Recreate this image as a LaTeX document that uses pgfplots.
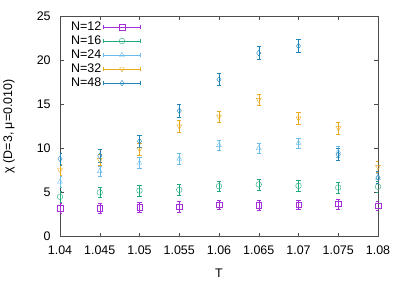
\documentclass[border=0pt]{standalone}
\usepackage{fontspec}
\setmainfont{Liberation Sans}
\usepackage{pgfplots}
\pgfplotsset{compat=1.18}
\definecolor{c1}{HTML}{A530DA}
\definecolor{c2}{HTML}{20A87F}
\definecolor{c3}{HTML}{6ABDEB}
\definecolor{c4}{HTML}{E9A920}
\definecolor{c5}{HTML}{2084BA}
\pgfplotsset{
  myleg/.style={legend image code/.code={%
    \draw[##1,mark=none,solid] (0bp,0bp)--(37bp,0bp) (0bp,-2.2bp)--(0bp,2.2bp) (37bp,-2.2bp)--(37bp,2.2bp);
    \draw[##1] plot coordinates {(18.5bp,0bp)};}},
  ser/.style={only marks, mark options={solid,line width=0.4pt}, line width=0.4pt, mark size=2.8bp,
    error bars/.cd, y dir=both, y explicit, error mark options={rotate=90,mark size=2.2bp,line width=0.4pt}, error bar style={line width=0.4pt}, /pgfplots/.cd},
}
\begin{document}
\fontsize{12.5}{15}\selectfont
\begin{tikzpicture}
\useasboundingbox (-60bp,-45.5bp) rectangle (343bp,236.5bp);
\begin{axis}[
  scale only axis, width=318bp, height=220.5bp,
  at={(0,0)}, anchor=south west,
  xmin=1.04, xmax=1.08, ymin=0, ymax=25,
  xtick={1.04,1.045,1.05,1.055,1.06,1.065,1.07,1.075,1.08},
  xticklabels={1.04,1.045,1.05,1.055,1.06,1.065,1.07,1.075,1.08},
  ytick={0,5,10,15,20,25},
  /pgf/number format/assume math mode=true,
  tick align=inside, major tick length=4bp, tick style={black!70, line width=0.5pt},
  axis line style={black!70, line width=0.6pt},
  xticklabel style={yshift=-5bp},
  yticklabel style={xshift=-5bp},
  every axis x label/.style={at={(axis description cs:0.5,0)}, yshift=-36.5bp, anchor=center},
  every axis y label/.style={at={(axis description cs:0,0.5)}, xshift=-51bp, rotate=90, anchor=center},
  xlabel={T},
  ylabel={χ (D=3, μ=0.010)},
  legend style={at={(9bp,217bp)}, anchor=north west, draw=none, fill=none, inner sep=0pt,
    row sep=-0.5bp, font=\fontsize{12.5}{14}\selectfont, /tikz/every even column/.append style={column sep=2bp}},
  legend plot pos=right,
  legend cell align=left,
]
\addplot[ser, c1, mark=square, myleg] table[x=x,y=y,y error=e] {
x y e
1.040 3.2 0.55
1.045 3.2 0.55
1.050 3.3 0.6
1.055 3.4 0.6
1.060 3.6 0.55
1.065 3.55 0.6
1.070 3.6 0.55
1.075 3.7 0.55
1.080 3.5 0.55
};
\addlegendentry{N=12}
\addplot[ser, c2, mark=o, myleg] table[x=x,y=y,y error=e] {
x y e
1.040 4.5 0.6
1.045 5.0 0.6
1.050 5.2 0.6
1.055 5.3 0.6
1.060 5.7 0.6
1.065 5.9 0.6
1.070 5.75 0.6
1.075 5.55 0.6
1.080 5.65 0.6
};
\addlegendentry{N=16}
\addplot[ser, c3, mark=triangle, myleg] table[x=x,y=y,y error=e] {
x y e
1.040 6.2 0.6
1.045 7.4 0.6
1.050 8.35 0.6
1.055 8.8 0.6
1.060 10.35 0.6
1.065 10.0 0.6
1.070 10.6 0.6
1.075 9.6 0.6
1.080 6.6 0.6
};
\addlegendentry{N=24}
\addplot[ser, c4, mark=triangle, mark options={rotate=180}, myleg] table[x=x,y=y,y error=e] {
x y e
1.040 7.55 0.65
1.045 8.7 0.65
1.050 9.9 0.65
1.055 12.5 0.65
1.060 13.6 0.65
1.065 15.5 0.65
1.070 13.4 0.65
1.075 12.3 0.65
1.080 7.9 0.65
};
\addlegendentry{N=32}
\addplot[ser, c5, mark=diamond, myleg] table[x=x,y=y,y error=e] {
x y e
1.040 8.8 0.7
1.045 9.15 0.7
1.050 10.8 0.7
1.055 14.25 0.7
1.060 17.8 0.7
1.065 20.8 0.72
1.070 21.6 0.74
1.075 9.3 0.7
1.080 6.7 0.7
};
\addlegendentry{N=48}
\end{axis}
\end{tikzpicture}
\end{document}
